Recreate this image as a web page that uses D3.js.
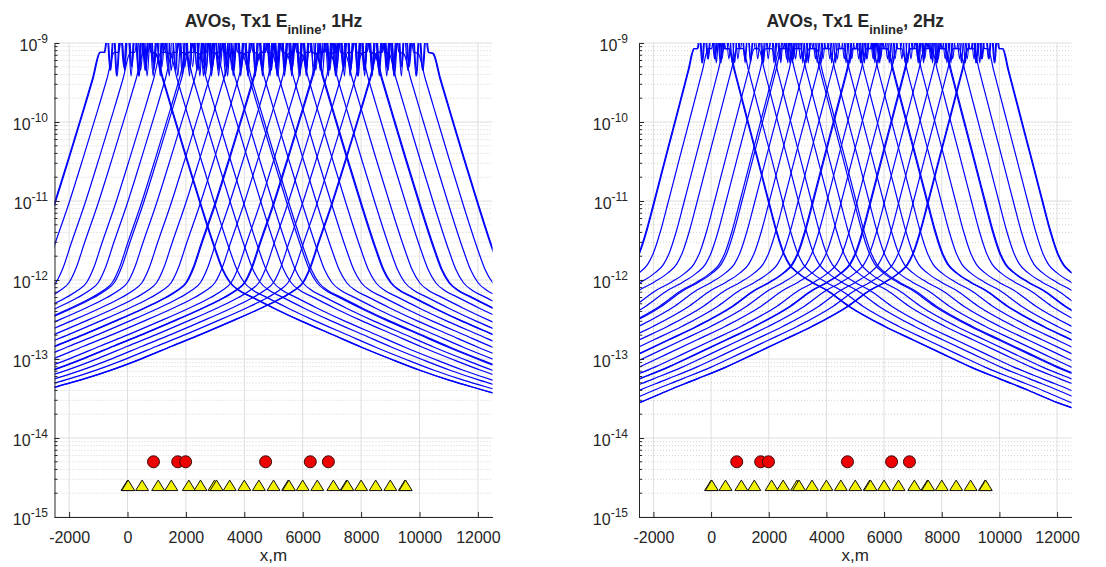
<!DOCTYPE html>
<html>
<head>
<meta charset="utf-8">
<script src="https://cdn.jsdelivr.net/npm/d3@7/dist/d3.min.js"></script>
<style>
  body { margin: 0; background: #fff; }
  text { font-family: Arial, "Liberation Sans", Helvetica, sans-serif; fill: #262626; }
</style>
</head>
<body>
<svg id="fig" width="1106" height="567"></svg>
<script>
// receiver stations along the line (m); repeated ones sit on top of each other
const receivers = [0, 25, 500, 1050, 1500, 2100, 2500, 2980, 3050, 3500, 4000, 4500, 5000,
  5500, 5530, 6000, 6500, 7050, 7500, 7530, 8000, 8500, 9000, 9500, 9525]
const sources = [890, 1720, 1990, 4730, 6260, 6880]
const receiverLevel = 2.5e-15
const sourceLevel = 5e-15

// amplitude vs signed offset from the receiver
const offsets1Hz = [-15000, -13000, -12000, -11000, -10000, -9000, -8000, -7000, -6000, -5000,
  -4200, -3800, -3500, -3250, -3000, -2500, -2000, -1500, -1200, -950, -800, -700, -600, -480,
  -380, -250, -130, 0, 130, 250, 380, 480, 600, 700, 800, 950, 1200, 1500, 2000, 2500, 3000,
  3250, 3500, 3800, 4200, 5000, 6000, 7000, 8000, 9000, 10000, 11000, 12000, 13000, 15000]
const amp1Hz = [2.1e-14, 3.4e-14, 4.4e-14, 5.6e-14, 7.4e-14, 1.02e-13, 1.45e-13, 2.05e-13, 2.95e-13, 4.3e-13,
  6.0e-13, 7.4e-13, 9.3e-13, 1.45e-12, 2.75e-12, 9.5e-12, 3.7e-11, 1.5e-10, 3.55e-10, 7.6e-10, 7.6e-10, 1.26e-9, 4.5e-10, 1.4e-9,
  3.8e-10, 1.6e-9, 5e-10, 2e-9, 5e-10, 1.6e-9, 3.8e-10, 1.4e-9, 4.5e-10, 1.26e-9, 7.6e-10, 7.4e-10, 3.5e-10, 1.48e-10, 3.55e-11, 8.9e-12, 2.4e-12,
  1.35e-12, 9.3e-13, 7.4e-13, 6.2e-13, 4.4e-13, 2.95e-13, 2.04e-13, 1.41e-13, 1.0e-13, 7.2e-14, 5.4e-14, 4.2e-14, 3.3e-14, 2.0e-14]

// same for the 2Hz panel
const offsets2Hz = [-15000, -13000, -12000, -11000, -10000, -9000, -8000, -7000, -6000, -4750,
  -4000, -3500, -3000, -2700, -2500, -2250, -2000, -1750, -1500, -1250, -1000, -800, -600, -480,
  -400, -320, -220, -120, 0, 120, 220, 320, 400, 480, 600, 800, 1000, 1250, 1500, 1750, 2000,
  2250, 2500, 2700, 3000, 3500, 4000, 4750, 6000, 7000, 8000, 9000, 10000, 11000, 12000, 13000, 15000]
const amp2Hz = [1.12e-14, 2.1e-14, 2.8e-14, 4.0e-14, 5.6e-14, 7.9e-14, 1.17e-13, 1.74e-13, 2.6e-13, 4.7e-13,
  7.4e-13, 9.3e-13, 1.23e-12, 1.58e-12, 2.2e-12, 4.2e-12, 9.3e-12, 2.1e-11, 4.7e-11, 1.05e-10, 2.35e-10, 4.5e-10, 8.5e-10, 8.5e-10,
  1.26e-9, 5.6e-10, 1.4e-9, 6.3e-10, 1.6e-9, 6.3e-10, 1.4e-9, 5.6e-10, 1.26e-9, 8.5e-10, 8.5e-10, 4.5e-10, 2.35e-10, 1.05e-10, 4.7e-11, 2.1e-11, 9.3e-12,
  4.2e-12, 2.2e-12, 1.58e-12, 1.23e-12, 9.3e-13, 7.4e-13, 4.7e-13, 2.6e-13, 1.74e-13, 1.17e-13, 7.9e-14, 5.6e-14, 4.0e-14, 2.8e-14, 2.1e-14, 1.12e-14]

const xTicks = [-2000, 0, 2000, 4000, 6000, 8000, 10000, 12000]
const yTicks = [1e-15, 1e-14, 1e-13, 1e-12, 1e-11, 1e-10, 1e-9]
const yExponents = [-15, -14, -13, -12, -11, -10, -9]
const freqs = ['1Hz', '2Hz']

const panels = [
  { freq: freqs[0], offsets: offsets1Hz, amps: amp1Hz, left: 54.5, right: 492.5, gap: 6.5 },
  { freq: freqs[1], offsets: offsets2Hz, amps: amp2Hz, left: 639, right: 1071.5, gap: 11 }
]
const plotTop = 43, plotBottom = 517

const svg = d3.select('#fig')

panels.forEach((p, pi) => {
  const x = d3.scaleLinear().domain([-2500, 12500]).range([p.left, p.right])
  const y = d3.scaleLog().domain([1e-15, 1e-9]).range([plotBottom, plotTop])
  const g = svg.append('g')

  g.append('clipPath').attr('id', 'clip' + pi)
    .append('rect')
    .attr('x', p.left).attr('y', plotTop)
    .attr('width', p.right - p.left).attr('height', plotBottom - plotTop)

  // minor grid (dotted)
  const minor = y.ticks().filter(v => yTicks.indexOf(v) < 0)
  g.selectAll('.ymin').data(minor).enter().append('line')
    .attr('x1', p.left).attr('x2', p.right)
    .attr('y1', d => y(d)).attr('y2', d => y(d))
    .attr('stroke', '#c8c8c8').attr('stroke-width', 0.8)
    .attr('stroke-dasharray', '1,2')

  // major grid
  g.selectAll('.ymaj').data(yTicks).enter().append('line')
    .attr('x1', p.left).attr('x2', p.right)
    .attr('y1', d => y(d)).attr('y2', d => y(d))
    .attr('stroke', '#dedede').attr('stroke-width', 1)
  g.selectAll('.xmaj').data(xTicks).enter().append('line')
    .attr('x1', d => x(d)).attr('x2', d => x(d))
    .attr('y1', plotTop).attr('y2', plotBottom)
    .attr('stroke', '#dedede').attr('stroke-width', 1)

  // AVO curves, one per receiver
  const line = d3.line()
    .x(d => x(d[0]))
    .y(d => y(d[1]))
    .curve(d3.curveMonotoneX)
  const curves = receivers.map(r => p.offsets.map((o, k) => [r + o, p.amps[k]]))
  g.append('g').attr('clip-path', 'url(#clip' + pi + ')')
    .selectAll('path').data(curves).enter().append('path')
    .attr('d', line)
    .attr('fill', 'none')
    .attr('stroke', '#0000ff')
    .attr('stroke-width', 1.2)

  // sources and receivers
  g.selectAll('.src').data(sources).enter().append('circle')
    .attr('cx', d => x(d)).attr('cy', y(sourceLevel)).attr('r', 6)
    .attr('fill', '#ee0000').attr('stroke', '#3a0a0a').attr('stroke-width', 1)
  g.selectAll('.rcv').data(receivers).enter().append('path')
    .attr('d', 'M0,-5.5L6.5,5L-6.5,5Z')
    .attr('transform', d => `translate(${x(d)},${y(receiverLevel)})`)
    .attr('fill', '#f2f200').attr('stroke', '#111').attr('stroke-width', 1)

  // axes
  const xAxis = g.append('g').attr('transform', `translate(0,${plotBottom})`)
    .call(d3.axisBottom(x).tickValues(xTicks).tickSizeInner(-5).tickSizeOuter(0)
      .tickFormat(d => String(d)))
  xAxis.select('.domain').attr('stroke', '#262626')
  xAxis.selectAll('.tick line').attr('stroke', '#262626')
  xAxis.selectAll('.tick text')
    .attr('y', 26).attr('dy', null)
    .style('font-size', '16px').attr('fill', '#262626')

  const yAxis = g.append('g').attr('transform', `translate(${p.left},0)`)
    .call(d3.axisLeft(y).tickValues(yTicks).tickSizeInner(-5).tickSizeOuter(0).tickFormat(''))
  yAxis.select('.domain').attr('stroke', '#262626')
  yAxis.selectAll('.tick line').attr('stroke', '#262626')
  yAxis.selectAll('.mtick').data(minor).enter().append('line')
    .attr('x1', 0).attr('x2', 3)
    .attr('y1', d => y(d)).attr('y2', d => y(d))
    .attr('stroke', '#262626')

  const lab = g.selectAll('.ylab').data(yTicks).enter().append('text')
    .attr('x', p.left - p.gap).attr('y', d => y(d) + 8)
    .attr('text-anchor', 'end')
    .style('font-size', '16px')
  lab.append('tspan').text('10')
  lab.append('tspan').attr('dy', -8).style('font-size', '12px')
    .text((d, i) => String(yExponents[i]))

  // title and label
  const cx = (p.left + p.right) / 2
  const t = g.append('text').attr('x', cx).attr('y', 27)
    .attr('text-anchor', 'middle')
    .style('font-size', '17.5px').style('font-weight', 'bold')
  t.append('tspan').text('AVOs, Tx1 E')
  t.append('tspan').attr('dy', 7).style('font-size', '13px').text('inline')
  t.append('tspan').attr('dy', -7).text(', ' + p.freq)

  g.append('text').attr('x', cx).attr('y', 561)
    .attr('text-anchor', 'middle')
    .style('font-size', '17px')
    .text('x,m')
})
</script>
</body>
</html>
